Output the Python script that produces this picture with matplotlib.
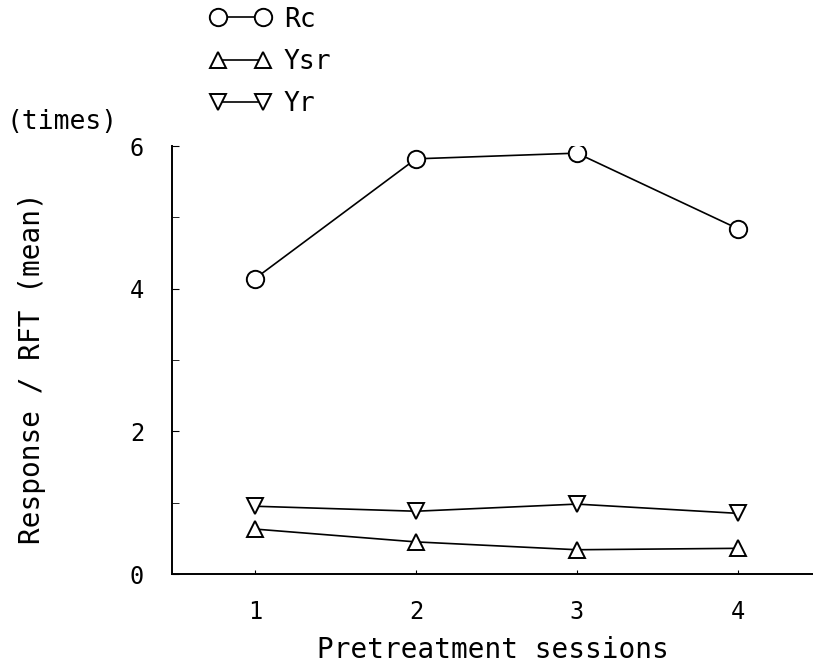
import matplotlib.pyplot as plt
from matplotlib.ticker import MultipleLocator

# values
sessions = [1, 2, 3, 4]
rc = [4.14, 5.82, 5.90, 4.84]
ysr = [0.63, 0.45, 0.34, 0.36]
yr = [0.95, 0.88, 0.98, 0.85]
y_ticks = [0, 2, 4, 6]

plt.rcParams['font.family'] = ['DejaVu Sans Mono']

fig = plt.figure(figsize=(8.13, 6.63), dpi=100)
ax = fig.add_axes([172 / 813, 89 / 663, 641 / 813, 428 / 663])

mk = dict(color="black", lw=1.2, mfc="white", mec="black", mew=1.4)
l1, = ax.plot(sessions, rc, marker="o", ms=12.5, label="Rc", **mk)
l2, = ax.plot(sessions, ysr, marker="^", ms=11, label="Ysr", **mk)
l3, = ax.plot(sessions, yr, marker="v", ms=11, label="Yr", **mk)

ax.set_xlim(0.485, 4.466)
ax.set_ylim(0, 6)
ax.spines["top"].set_visible(False)
ax.spines["right"].set_visible(False)
ax.spines["left"].set_linewidth(1.4)
ax.spines["bottom"].set_linewidth(1.4)

ax.set_xticks(sessions)
ax.set_yticks(y_ticks)
ax.yaxis.set_minor_locator(MultipleLocator(1))
ax.tick_params(axis="both", which="both", direction="in", labelsize=17)
ax.tick_params(axis="y", which="major", length=5, pad=20)
ax.tick_params(axis="y", which="minor", length=5)
ax.tick_params(axis="x", length=3, pad=19)

ax.set_xlabel("Pretreatment sessions", fontsize=20)
ax.xaxis.set_label_coords(0.5, -0.1776)
ax.xaxis.label.set_va("center")
ax.set_ylabel("Response / RFT (mean)", fontsize=20)
ax.yaxis.set_label_coords(-0.219, 0.48)
ax.yaxis.label.set_va("center")
fig.text(0.008, 1 - 122 / 663, "(times)", fontsize=19, va="center", ha="left")

leg = fig.legend(handles=[l1, l2, l3], loc="upper left",
                 bbox_to_anchor=(210 / 813, 0.99), frameon=False, numpoints=2,
                 borderpad=0, borderaxespad=0,
                 handlelength=2.3, handletextpad=0.5, labelspacing=0.62,
                 fontsize=19)

fig.savefig("out.png", dpi=100)
